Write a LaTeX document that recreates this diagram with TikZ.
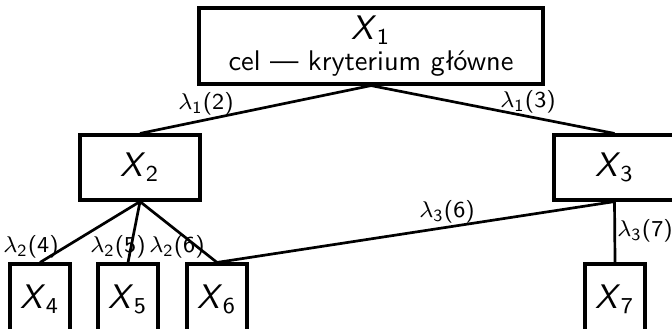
\documentclass[tikz,border=0pt]{standalone}
\usepackage{amsmath,amssymb}
\usepackage{xcolor}
\usepackage{tikz}

\newcommand{\Xv}[1]{{\large\textit{X}\textsubscript{#1}}}
\newcommand{\lam}[2]{$\lambda$\textsubscript{#1}(#2)}

\begin{document}
\begin{tikzpicture}[x=0.352pt, y=-0.352pt, font=\sffamily,
    crit/.style={draw, line width=1.1pt, rectangle, inner sep=0pt, align=center},
    link/.style={line width=0.95pt},
    wlab/.style={font=\sffamily\footnotesize, inner sep=1pt}]
  \useasboundingbox (0,0) rectangle (672,328);

  % Criteria boxes
  \node[crit, minimum width=344*0.352pt, minimum height=76*0.352pt] (x1) at (371,46)
    {\Xv{1}\\[-1pt]cel --- kryterium główne};
  \node[crit, minimum width=120*0.352pt, minimum height=65*0.352pt] (x2) at (140,167.5) {\Xv{2}};
  \node[crit, minimum width=121*0.352pt, minimum height=65*0.352pt] (x3) at (614.5,167.5) {\Xv{3}};
  \node[crit, minimum width=60*0.352pt, minimum height=70*0.352pt] (x4) at (40,299) {\Xv{4}};
  \node[crit, minimum width=60*0.352pt, minimum height=70*0.352pt] (x5) at (128,299) {\Xv{5}};
  \node[crit, minimum width=60*0.352pt, minimum height=70*0.352pt] (x6) at (217,299) {\Xv{6}};
  \node[crit, minimum width=60*0.352pt, minimum height=70*0.352pt] (x7) at (615,299) {\Xv{7}};

  % Links
  \draw[link] (x1.south) -- (x2.north);
  \draw[link] (x1.south) -- (x3.north);
  \draw[link] (x2.south) -- (x4.north);
  \draw[link] (x2.south) -- (x5.north);
  \draw[link] (x2.south) -- (x6.north);
  \draw[link] (x3.south) -- (x6.north);
  \draw[link] (x3.south) -- (x7.north);

  % Weights
  \node[wlab] (l12) at (206,104) {\lam{1}{2}};
  \node[wlab] (l13) at (528,102) {\lam{1}{3}};
  \node[wlab] (l24) at (31,247) {\lam{2}{4}};
  \node[wlab] (l25) at (118,247) {\lam{2}{5}};
  \node[wlab] (l26) at (177,247) {\lam{2}{6}};
  \node[wlab] (l36) at (447,212) {\lam{3}{6}};
  \node[wlab] (l37) at (645,231) {\lam{3}{7}};
\end{tikzpicture}
\end{document}
